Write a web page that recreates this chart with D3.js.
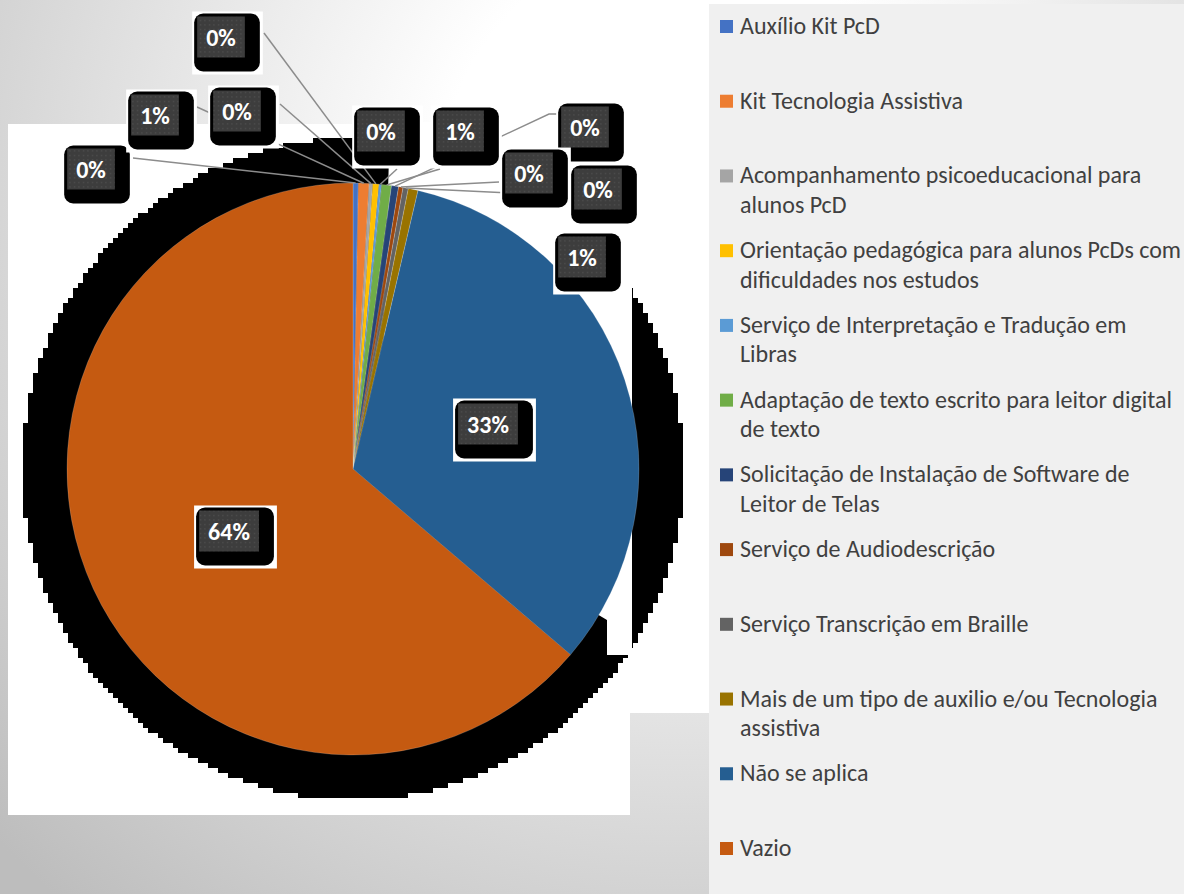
<!DOCTYPE html>
<html>
<head>
<meta charset="utf-8">
<script src="https://cdn.jsdelivr.net/npm/d3@7"></script>
<style>
  body { margin: 0; }
  svg { display: block; }
</style>
</head>
<body>
<div id="chart"></div>
<script>
// data (share of answers, %)
var categories = [
  "Auxílio Kit PcD",
  "Kit Tecnologia Assistiva",
  "Acompanhamento psicoeducacional para alunos PcD",
  "Orientação pedagógica para alunos PcDs com dificuldades nos estudos",
  "Serviço de Interpretação e Tradução em Libras",
  "Adaptação de texto escrito para leitor digital de texto",
  "Solicitação de Instalação de Software de Leitor de Telas",
  "Serviço de Audiodescrição",
  "Serviço Transcrição em Braille",
  "Mais de um tipo de auxilio e/ou Tecnologia assistiva",
  "Não se aplica",
  "Vazio"
];
var values = [0.3, 0.6, 0.2, 0.35, 0.15, 0.55, 0.4, 0.25, 0.3, 0.55, 32.6, 63.75];
var colors = ["#4472C4", "#ED7D31", "#A5A5A5", "#FFC000", "#5B9BD5", "#70AD47",
              "#264478", "#9E480E", "#636363", "#997300", "#255E91", "#C55A11"];

// hand placed data labels (centre of the text box) and leader line ends
var labelPos = [[91,169],[155,115],[237,111],[221,37],[381,131],[460,131],
                [585,127],[529,173],[598,189],[582,257],[488,424],[229,531]];
var leaderEnds = [[[133,158]], [[197,107]], [[280,104]], [[264,33]], [[397,169]], [[440,169]],
                  [[549,114],[557,114]], [[499,182]], [[572,196]], [], [], []];

var W = 1184, H = 894;
var cx = 353, cy = 469, R = 286;

var svg = d3.select("#chart").append("svg")
  .attr("width", W)
  .attr("height", H);

var defs = svg.append("defs");
var grad = defs.append("radialGradient")
  .attr("id", "bg")
  .attr("gradientUnits", "userSpaceOnUse")
  .attr("cx", 680).attr("cy", 180).attr("r", 950);
grad.append("stop").attr("offset", 0.25).attr("stop-color", "#ffffff");
grad.append("stop").attr("offset", 1).attr("stop-color", "#bdbdbd");

var pat = defs.append("pattern")
  .attr("id", "dots")
  .attr("patternUnits", "userSpaceOnUse")
  .attr("width", 4.5).attr("height", 4.5);
pat.append("rect").attr("width", 4.5).attr("height", 4.5).attr("fill", "#3d3d3d");
pat.append("rect").attr("x", 2).attr("y", 2).attr("width", 1).attr("height", 1).attr("fill", "#5c5c5c");

// background + white chart areas
svg.append("rect").attr("width", W).attr("height", H).attr("fill", "url(#bg)");
svg.append("rect").attr("x", 630).attr("y", 90).attr("width", 79).attr("height", 623).attr("fill", "#ffffff");
svg.append("rect").attr("x", 8).attr("y", 124).attr("width", 622).attr("height", 691).attr("fill", "#ffffff");
svg.append("rect").attr("x", 709).attr("y", 4).attr("width", W - 709).attr("height", H - 4).attr("fill", "#f0f0f0");

// blocky black shadow behind the pie
var shadow = svg.append("g").attr("transform", "translate(" + cx + "," + cy + ")");
var cell = 5, RS = 331, shadowPath = "";
d3.range(-RS, RS, cell).forEach(function(y0) {
  var yc = y0 + cell / 2;
  var half = Math.round(Math.sqrt(Math.max(0, RS * RS - yc * yc)) / cell) * cell;
  if (half > 0) shadowPath += "M" + (-half) + "," + y0 + "h" + (2 * half) + "v" + cell + "h" + (-2 * half) + "z";
});
shadow.append("path").attr("d", shadowPath).attr("fill", "#000");
// part of the shadow is hidden in the original
svg.append("polygon")
  .attr("points", [[390,122],[632,122],[632,655],[607,655],[607,620],[cx,cy],[380,cy]].join(" "))
  .attr("fill", "#ffffff");

// pie
var g = svg.append("g").attr("transform", "translate(" + cx + "," + cy + ")");
var pie = d3.pie().sort(null).value(function(d) { return d; });
var arcs = pie(values);
var arc = d3.arc().innerRadius(0).outerRadius(R);
g.selectAll("path.slice")
  .data(arcs)
  .enter().append("path")
  .attr("class", "slice")
  .attr("d", arc)
  .attr("fill", function(d, i) { return colors[i]; })
  .attr("stroke", "rgba(255,255,255,0.35)")
  .attr("stroke-width", 0.5);

// leader lines
var total = d3.sum(values);
arcs.forEach(function(a, i) {
  if (!leaderEnds[i].length) return;
  var mid = (a.startAngle + a.endAngle) / 2;
  var start = [cx + Math.sin(mid) * R, cy - Math.cos(mid) * R];
  svg.append("path")
    .attr("d", d3.line()([start].concat(leaderEnds[i])))
    .attr("fill", "none")
    .attr("stroke", "#8c8c8c")
    .attr("stroke-width", 1.5);
});

// data labels
var lab = svg.append("g")
  .style("font-family", "Carlito, Lato, sans-serif")
  .style("font-weight", "bold")
  .style("font-size", "24px");
arcs.forEach(function(a, i) {
  var txt = Math.round(a.data / total * 100) + "%";
  var p = labelPos[i];
  var t = lab.append("text").text(txt).attr("fill", "#fff").attr("text-anchor", "middle");
  var tw = t.node().getComputedTextLength();
  var gw = tw + 18, gh = 41;
  var gx = p[0] - gw / 2, gy = p[1] - gh / 2;
  var grp = lab.insert("g", function() { return t.node(); });
  grp.append("rect").attr("x", gx - 5).attr("y", gy - 5).attr("width", gw + 23).attr("height", gh + 22).attr("fill", "#fff");
  grp.append("rect").attr("x", gx - 3).attr("y", gy - 3).attr("width", gw + 18).attr("height", gh + 17).attr("rx", 9).attr("fill", "#000");
  grp.append("rect").attr("x", gx).attr("y", gy).attr("width", gw).attr("height", gh).attr("fill", "url(#dots)");
  t.attr("x", p[0]).attr("y", p[1] + 8.5);
});

// legend
var yRow = d3.scalePoint().domain(categories).range([34, 856]);
var leg = svg.append("g")
  .style("font-family", "Carlito, Lato, sans-serif")
  .style("font-size", "24px")
  .attr("fill", "#404040");
categories.forEach(function(c, i) {
  var y = yRow(c);
  leg.append("rect").attr("x", 720).attr("y", y - 14).attr("width", 13).attr("height", 13).attr("fill", colors[i]);
  var t = leg.append("text").attr("x", 740).attr("y", y);
  var words = c.split(" "), line = [], lineNo = 0;
  var ts = t.append("tspan").attr("x", 740).attr("y", y);
  words.forEach(function(w) {
    line.push(w);
    ts.text(line.join(" "));
    if (ts.node().getComputedTextLength() > 445 && line.length > 1) {
      line.pop();
      ts.text(line.join(" "));
      line = [w];
      lineNo++;
      ts = t.append("tspan").attr("x", 740).attr("y", y + lineNo * 29.5).text(w);
    }
  });
});
</script>
</body>
</html>
